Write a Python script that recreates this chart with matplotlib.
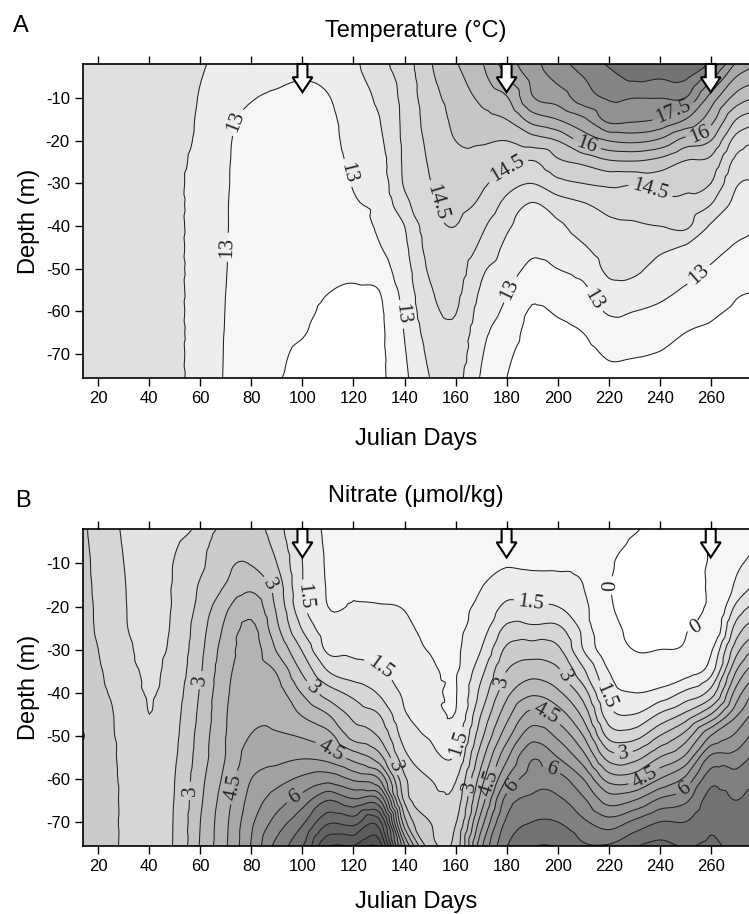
import numpy as np
import matplotlib
matplotlib.use("Agg")
import matplotlib.pyplot as plt
import matplotlib.tri as mtri
from matplotlib.patches import FancyArrow

plt.rcParams['font.family'] = ['Liberation Sans', 'DejaVu Sans']

# ---------------- data ----------------
days = [10, 20, 30, 40, 50, 60, 70, 80, 90, 100, 110, 120, 130, 140,
        150, 160, 170, 180, 190, 200, 210, 220, 230, 240, 250, 260, 270, 280]
depths = [-2, -5, -10, -15, -20, -25, -30, -35, -40, -45, -50, -55, -60, -65, -70, -76]

# temperature (deg C): one profile per day column, top to bottom
temperature = [
    [13.75] * 16,
    [13.75] * 16,
    [13.72] * 16,
    [13.70] * 16,
    [13.7, 13.7, 13.7, 13.7, 13.68, 13.65, 13.63, 13.63, 13.63, 13.63, 13.63, 13.63, 13.63, 13.63, 13.63, 13.63],
    [13.56, 13.52, 13.47, 13.43, 13.4, 13.32, 13.25, 13.25, 13.25, 13.25, 13.25, 13.25, 13.25, 13.25, 13.25, 13.25],
    [13.3, 13.25, 13.18, 13.1, 13.06, 13.04, 13.03, 13.02, 13.02, 13.01, 13.01, 13.0, 12.99, 12.98, 12.97, 12.96],
    [13.2, 13.12, 13.02, 12.9, 12.85, 12.85, 12.85, 12.85, 12.85, 12.85, 12.85, 12.8, 12.75, 12.7, 12.65, 12.6],
    [13.15, 13.07, 12.95, 12.85, 12.8, 12.8, 12.8, 12.8, 12.8, 12.8, 12.77, 12.72, 12.66, 12.6, 12.55, 12.52],
    [13.1, 13.02, 12.9, 12.82, 12.8, 12.8, 12.8, 12.8, 12.8, 12.8, 12.75, 12.68, 12.6, 12.52, 12.45, 12.4],
    [13.12, 13.08, 12.98, 12.92, 12.9, 12.88, 12.86, 12.84, 12.8, 12.75, 12.65, 12.52, 12.42, 12.4, 12.4, 12.4],
    [13.4, 13.35, 13.25, 13.18, 13.13, 13.07, 13.02, 12.97, 12.92, 12.86, 12.62, 12.45, 12.4, 12.4, 12.4, 12.4],
    [13.85, 13.75, 13.6, 13.48, 13.4, 13.3, 13.2, 13.12, 13.05, 12.97, 12.8, 12.5, 12.42, 12.4, 12.4, 12.4],
    [14.25, 14.2, 14.15, 14.12, 14.1, 14.08, 14.05, 13.85, 13.5, 13.4, 13.3, 13.2, 13.1, 13.02, 12.96, 12.9],
    [14.95, 14.9, 14.8, 14.7, 14.62, 14.55, 14.48, 14.4, 14.3, 14.2, 14.08, 13.95, 13.85, 13.72, 13.6, 13.5],
    [15.45, 15.35, 15.2, 15.1, 15.0, 14.88, 14.75, 14.62, 14.5, 14.38, 14.25, 14.12, 14.02, 13.9, 13.78, 13.65],
    [15.95, 15.85, 15.6, 15.35, 15.05, 14.85, 14.6, 14.4, 14.1, 13.9, 13.6, 13.45, 13.3, 13.15, 13.05, 12.95],
    [16.75, 16.5, 15.95, 15.5, 15.0, 14.65, 14.2, 13.85, 13.58, 13.4, 13.25, 13.05, 12.9, 12.75, 12.6, 12.5],
    [17.3, 17.15, 16.95, 16.2, 15.25, 14.45, 14.0, 13.45, 13.3, 13.1, 12.9, 12.62, 12.45, 12.35, 12.3, 12.3],
    [17.85, 17.65, 17.2, 16.5, 15.5, 14.9, 14.35, 13.75, 13.42, 13.22, 13.0, 12.8, 12.55, 12.4, 12.3, 12.3],
    [18.15, 18.0, 17.75, 16.9, 16.15, 15.1, 14.5, 13.95, 13.7, 13.45, 13.15, 12.9, 12.7, 12.5, 12.35, 12.3],
    [18.55, 18.35, 18.05, 17.65, 16.5, 15.4, 14.6, 14.15, 13.9, 13.75, 13.6, 13.35, 13.05, 12.8, 12.55, 12.4],
    [18.75, 18.6, 18.0, 17.6, 16.6, 15.45, 14.55, 14.2, 13.95, 13.8, 13.58, 13.35, 13.0, 12.78, 12.53, 12.4],
    [18.8, 18.55, 18.0, 17.45, 16.4, 15.3, 14.7, 14.3, 14.0, 13.6, 13.35, 13.15, 12.9, 12.7, 12.48, 12.4],
    [18.8, 18.6, 18.0, 17.0, 15.8, 14.95, 14.62, 14.35, 14.1, 13.45, 13.2, 12.95, 12.75, 12.5, 12.4, 12.35],
    [18.4, 17.7, 16.8, 16.2, 15.5, 14.85, 14.5, 14.0, 13.45, 13.2, 12.95, 12.75, 12.57, 12.45, 12.4, 12.35],
    [16.95, 16.5, 15.8, 15.0, 14.3, 13.85, 13.55, 13.35, 13.15, 12.95, 12.75, 12.55, 12.45, 12.4, 12.35, 12.3],
    [16.6, 16.1, 15.4, 14.6, 14.0, 13.7, 13.5, 13.25, 13.05, 12.85, 12.65, 12.5, 12.4, 12.35, 12.3, 12.3],
]

# nitrate (umol/kg): one profile per day column, top to bottom
nitrate = [
    [2.7, 2.7, 2.7, 2.7, 2.7, 2.7, 2.7, 2.7, 2.75, 2.85, 3.3, 2.85, 2.75, 2.7, 2.7, 2.7],
    [2.35, 2.37, 2.4, 2.42, 2.44, 2.45, 2.5, 2.55, 2.6, 2.65, 2.7, 2.7, 2.7, 2.7, 2.7, 2.7],
    [1.95, 1.97, 2.0, 2.02, 2.03, 2.04, 2.1, 2.2, 2.3, 2.38, 2.4, 2.42, 2.44, 2.45, 2.45, 2.45],
    [1.8, 1.82, 1.85, 1.87, 1.88, 1.9, 1.92, 1.94, 1.97, 2.0, 2.1, 2.2, 2.25, 2.3, 2.3, 2.3],
    [1.9, 1.95, 2.02, 2.04, 2.05, 2.08, 2.12, 2.2, 2.28, 2.35, 2.4, 2.45, 2.5, 2.52, 2.54, 2.55],
    [2.1, 2.3, 2.4, 2.55, 2.65, 2.8, 2.88, 2.95, 3.05, 3.12, 3.2, 3.25, 3.35, 3.42, 3.5, 3.55],
    [2.7, 2.8, 2.92, 3.02, 3.4, 3.6, 3.75, 3.85, 3.92, 3.97, 4.0, 4.02, 4.15, 4.3, 4.4, 4.45],
    [2.75, 2.85, 2.98, 3.35, 3.8, 4.1, 4.2, 4.25, 4.3, 4.4, 4.52, 4.75, 5.0, 5.2, 5.4, 5.55],
    [2.2, 2.3, 2.5, 2.75, 2.9, 3.1, 3.45, 3.95, 4.2, 4.35, 4.55, 4.85, 5.3, 5.75, 6.2, 6.7],
    [1.45, 1.48, 1.5, 1.52, 1.6, 1.95, 2.45, 2.92, 3.45, 3.95, 4.45, 4.95, 5.6, 6.25, 6.9, 7.5],
    [0.9, 0.92, 0.95, 0.97, 1.0, 1.2, 1.4, 2.0, 2.75, 3.5, 4.18, 4.8, 5.8, 7.0, 7.9, 9.0],
    [0.9, 0.92, 0.95, 0.98, 1.02, 1.2, 1.4, 1.7, 2.35, 2.85, 3.3, 4.3, 5.4, 6.6, 7.8, 9.1],
    [0.85, 0.88, 0.92, 0.96, 1.01, 1.12, 1.35, 1.55, 1.95, 2.5, 2.95, 3.7, 5.0, 6.6, 8.2, 9.4],
    [0.85, 0.88, 0.92, 0.96, 0.99, 1.05, 1.15, 1.3, 1.42, 1.55, 1.8, 2.15, 2.6, 2.9, 3.7, 5.2],
    [0.8, 0.82, 0.85, 0.88, 0.9, 0.93, 0.98, 1.1, 1.2, 1.32, 1.45, 1.7, 2.0, 2.25, 2.5, 2.8],
    [0.85, 0.87, 0.88, 0.89, 0.9, 0.91, 0.93, 0.95, 0.97, 1.02, 1.25, 1.55, 1.95, 2.2, 2.45, 2.7],
    [0.8, 0.85, 0.92, 0.98, 1.1, 1.25, 1.5, 1.85, 2.15, 2.5, 2.85, 3.3, 3.75, 4.2, 4.75, 5.4],
    [0.8, 0.85, 0.96, 1.25, 1.6, 2.1, 2.6, 3.0, 3.35, 3.8, 4.3, 4.9, 5.5, 6.2, 6.6, 7.0],
    [0.7, 0.75, 0.9, 1.25, 1.55, 2.1, 2.75, 3.3, 3.9, 4.65, 5.3, 5.95, 6.25, 6.6, 7.0, 7.5],
    [0.7, 0.75, 0.9, 1.2, 1.5, 2.1, 2.6, 3.1, 3.6, 4.25, 4.9, 5.5, 6.2, 6.6, 7.0, 7.5],
    [0.6, 0.65, 0.8, 1.0, 1.2, 1.35, 1.5, 2.1, 2.75, 3.35, 4.0, 4.7, 5.5, 6.1, 6.6, 7.1],
    [0.45, 0.35, 0.12, 0.06, 0.12, 0.3, 0.6, 1.0, 1.3, 1.7, 2.35, 3.3, 4.3, 5.3, 6.2, 7.1],
    [0.1, -0.1, -0.3, -0.3, -0.25, -0.15, -0.02, 0.6, 1.0, 1.5, 2.3, 3.3, 4.3, 5.5, 6.6, 7.5],
    [-0.3, -0.3, -0.25, -0.2, -0.15, -0.1, 0.0, 0.55, 1.15, 2.05, 3.0, 4.0, 5.0, 6.1, 7.0, 7.7],
    [-0.2, -0.2, -0.18, -0.15, -0.1, -0.05, 0.1, 0.75, 1.6, 2.6, 3.7, 4.6, 5.6, 6.4, 7.0, 7.5],
    [0.05, 0.05, 0.07, 0.1, 0.15, 0.3, 0.9, 1.3, 2.2, 3.5, 5.0, 6.1, 6.8, 7.2, 7.4, 7.6],
    [0.5, 0.6, 0.85, 1.1, 1.6, 2.2, 2.8, 3.5, 4.2, 4.9, 5.6, 6.2, 6.7, 7.0, 7.2, 7.4],
    [0.8, 1.0, 1.3, 1.7, 2.3, 3.0, 3.8, 4.6, 5.3, 5.9, 6.4, 6.8, 7.1, 7.3, 7.4, 7.5],
]

sampling_days = [100, 180, 260]
x_ticks = [20, 40, 60, 80, 100, 120, 140, 160, 180, 200, 220, 240, 260]
y_ticks = [-10, -20, -30, -40, -50, -60, -70]

temp_line_levels = [12.5, 13.0, 13.5, 14.0, 14.5, 15.0, 15.5, 16.0, 16.5, 17.0, 17.5, 18.0, 18.5]
temp_label_levels = [13.0, 14.5, 16.0, 17.5]
nit_line_levels = [0, 1, 1.5, 2, 2.5, 3, 3.5, 4, 4.5, 5, 5.5, 6, 6.5, 7, 7.5, 8, 8.5, 9, 9.5]
nit_label_levels = [0, 1.5, 3, 4.5, 6]

# ---------------- styling ----------------
temp_fill_levels = [11.0, 12.5, 13.0, 13.5, 14.0, 14.5, 15.0, 15.5, 16.0, 16.5, 17.0, 17.5, 18.0, 18.5, 20.0]
temp_fill_grays = [1.0, 0.965, 0.93, 0.88, 0.85, 0.82, 0.78, 0.74, 0.70, 0.66, 0.62, 0.57, 0.52, 0.45]
nit_fill_levels = [-2, 0, 1, 1.5, 2, 2.5, 3, 3.5, 4, 4.5, 5, 5.5, 6, 6.5, 7, 7.5, 8, 8.5, 9, 9.5, 11]
nit_fill_grays = [1.0, 0.965, 0.93, 0.885, 0.84, 0.795, 0.76, 0.725, 0.70, 0.66, 0.63, 0.59,
                  0.55, 0.50, 0.45, 0.42, 0.39, 0.36, 0.33, 0.30]

W, H = 749, 914
fig = plt.figure(figsize=(W / 100, H / 100), dpi=100)
ax1 = fig.add_axes([83 / W, 1 - 378 / H, 666 / W, 314 / H])
ax2 = fig.add_axes([83 / W, 1 - 846 / H, 666 / W, 317 / H])

temp_labels_at = [(72, -45), (77.6, -16.3), (118, -27.5), (138.4, -60.7), (151.4, -34.5),
                  (180.4, -26.8), (181.6, -54.9), (211, -21.5), (211.8, -58.4),
                  (235, -33.4), (247, -15), (256.9, -20.3), (254.8, -51)]
nit_labels_at = [(86.1, -15.1), (99.2, -17.8), (61.3, -37.2), (103.1, -39.5), (130.6, -34.1),
                 (111, -53.5), (56.1, -62.8), (73, -62), (96.6, -64), (134.5, -57.4),
                 (162, -51.9), (165.9, -62), (175, -61.2), (182.9, -62), (177, -37.2),
                 (189.4, -20.2), (202.5, -36.4), (197.3, -43.4), (198.5, -56.6),
                 (218.2, -41.1), (220.8, -15.1), (256, -26.4), (226, -55), (235, -60.5),
                 (250.9, -63.6)]

line_color = '#222222'


def panel(ax, profiles, fill_levels, fill_grays, line_levels, label_levels, label_pos):
    Z = np.array(profiles, dtype=float).T
    X, Y = np.meshgrid(days, depths)
    tri = mtri.Triangulation(X.ravel(), Y.ravel())
    interp = mtri.CubicTriInterpolator(tri, Z.ravel(), kind='geom')
    tri_f, z_f = mtri.UniformTriRefiner(tri).refine_field(Z.ravel(), triinterpolator=interp,
                                                          subdiv=3)
    ax.tricontourf(tri_f, z_f, levels=fill_levels,
                   colors=[str(g) for g in fill_grays])
    plain = [v for v in line_levels if v not in label_levels]
    ax.tricontour(tri_f, z_f, levels=plain, colors=line_color, linewidths=0.75)
    cs = ax.tricontour(tri_f, z_f, levels=label_levels, colors=line_color,
                       linewidths=0.75)
    with plt.rc_context({'font.family': ['Liberation Serif']}):
        ax.clabel(cs, manual=label_pos, inline=True,
                  inline_spacing=4, fmt=lambda v: f'{v:g}', fontsize=15)
    for d in sampling_days:
        ax.add_patch(FancyArrow(d, -2.0, 0, -6.6, width=3.9, head_width=7.8,
                                head_length=3.5, length_includes_head=True,
                                fc='white', ec='black', lw=1.5, zorder=6,
                                clip_on=False))
    ax.set_xlim(14, 275)
    ax.set_ylim(-75.6, -2)
    ax.set_xticks(x_ticks)
    ax.set_xticklabels([str(t) for t in x_ticks])
    ax.set_yticks(y_ticks)
    ax.set_yticklabels([str(t) for t in y_ticks])
    ax.tick_params(axis='both', direction='out', length=5.5, width=1.0,
                   labelsize=12, pad=4, top=True, right=False, labeltop=False)
    ax.spines['right'].set_visible(False)
    for s in ['left', 'top', 'bottom']:
        ax.spines[s].set_linewidth(1.2)
    ax.set_ylabel('Depth (m)', fontsize=17, labelpad=4)


panel(ax1, temperature, temp_fill_levels, temp_fill_grays, temp_line_levels,
      temp_label_levels, temp_labels_at)
panel(ax2, nitrate, nit_fill_levels, nit_fill_grays, nit_line_levels,
      nit_label_levels, nit_labels_at)

cx = (83 + 749) / 2 / W
fig.text(13 / W, 1 - 32 / H, 'A', fontsize=17, va='baseline', ha='left')
fig.text(cx, 1 - 37 / H, 'Temperature (°C)', fontsize=17, va='baseline', ha='center')
fig.text(cx, 1 - 445 / H, 'Julian Days', fontsize=17, va='baseline', ha='center')
fig.text(15 / W, 1 - 507 / H, 'B', fontsize=17, va='baseline', ha='left')
fig.text(cx, 1 - 502 / H, 'Nitrate (μmol/kg)', fontsize=17, va='baseline', ha='center')
fig.text(cx, 1 - 908 / H, 'Julian Days', fontsize=17, va='baseline', ha='center')

fig.savefig('out.png', dpi=100)
